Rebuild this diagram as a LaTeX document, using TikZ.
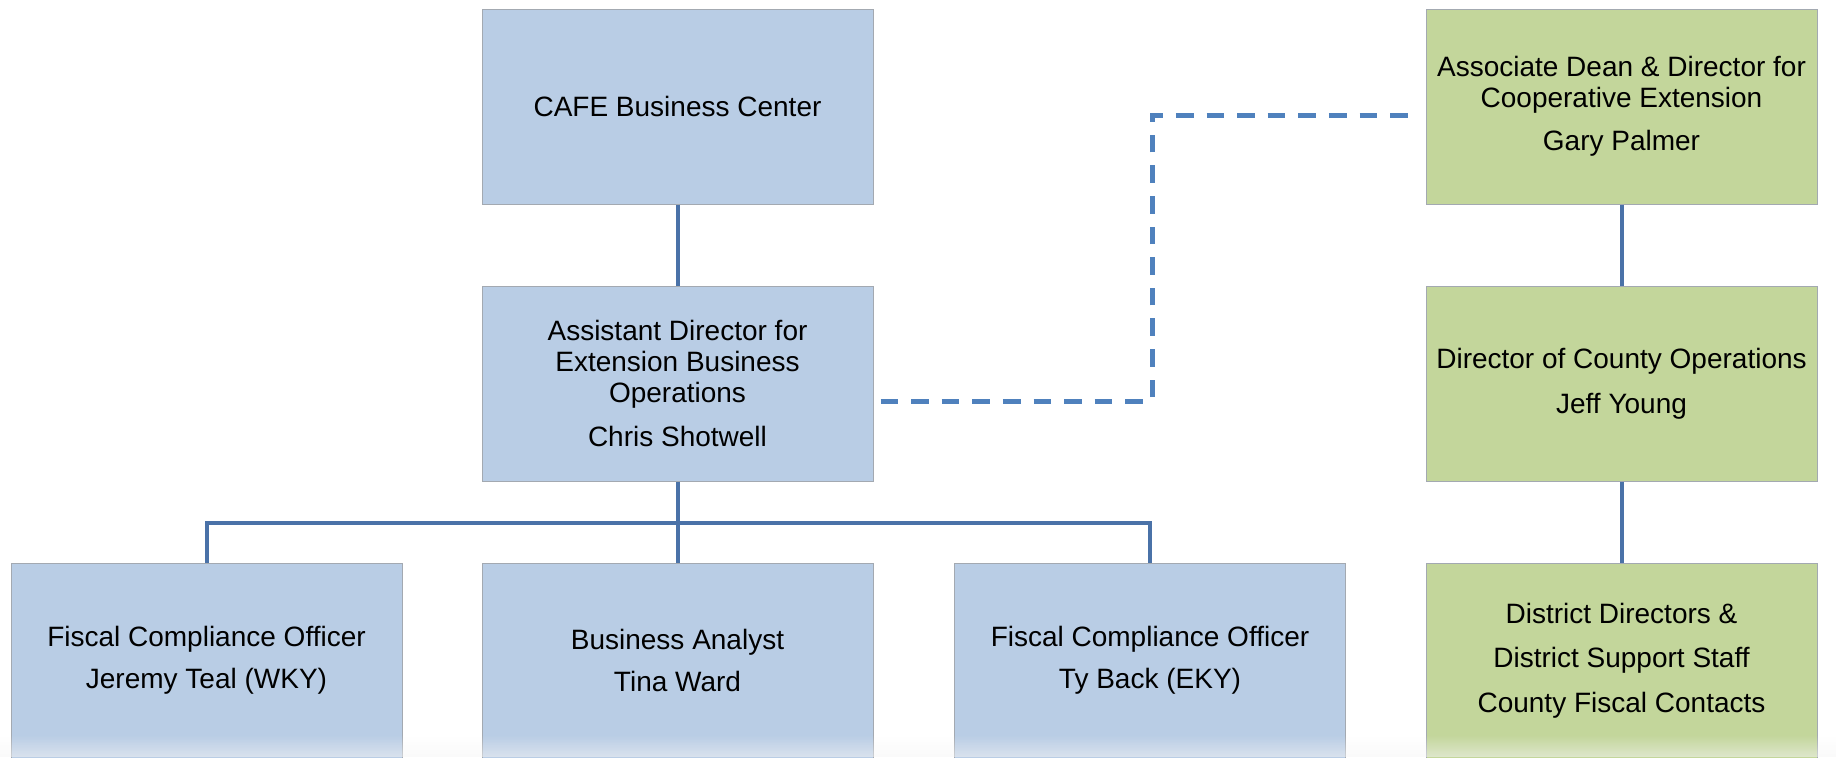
\documentclass[tikz,border=0pt]{standalone}
\usepackage{fontspec}
\setmainfont{Liberation Sans}
\usetikzlibrary{fadings}
\newcommand{\unitsize}{0.5pt}
\definecolor{boxblue}{HTML}{B9CDE5}
\definecolor{boxgreen}{HTML}{C3D69B}
\definecolor{linkblue}{HTML}{4A72A8}
\definecolor{dashblue}{HTML}{4F81BD}
\definecolor{boxedge}{HTML}{A3A9B1}

\begin{document}
\begin{tikzpicture}
\useasboundingbox (0,0) rectangle (1837*\unitsize,-757*\unitsize);
\tikzstyle{every node}=[draw=boxedge,
			line width=0.5pt,
			inner sep=0pt,
			minimum width = 391*\unitsize,
			minimum height = 195*\unitsize,
			align=center,
			font=\fontsize{14pt}{15.5pt}\selectfont
			]
\tikzstyle{bluebox}=[fill=boxblue]
\tikzstyle{greenbox}=[fill=boxgreen]
\tikzstyle{orgline}=[linkblue, line width=2pt]
\tikzstyle{dashlink}=[dashblue, line width=2.5pt, dash pattern=on 8.8pt off 6.5pt]


\node[bluebox] (cafe) at (677.5*\unitsize,-106.5*\unitsize) {CAFE Business Center};


\node[bluebox] (asst) at (677.5*\unitsize,-383.5*\unitsize) {Assistant Director for\\Extension Business\\Operations\\[6.75pt]Chris Shotwell};


\node[bluebox] (fcowest) at (206.5*\unitsize,-660.5*\unitsize) {Fiscal Compliance Officer\\[5.5pt]Jeremy Teal (WKY)};


\node[bluebox] (analyst) at (677.5*\unitsize,-660.5*\unitsize) {Business Analyst\\[5.5pt]Tina Ward};


\node[bluebox] (fcoeast) at (1150*\unitsize,-660.5*\unitsize) {Fiscal Compliance Officer\\[5.5pt]Ty Back (EKY)};


\node[greenbox] (dean) at (1621.5*\unitsize,-106.5*\unitsize) {Associate Dean \& Director for\\Cooperative Extension\\[6pt]Gary Palmer};


\node[greenbox] (county) at (1621.5*\unitsize,-383.5*\unitsize) {Director of County Operations\\[6.75pt]Jeff Young};


\node[greenbox] (district) at (1621.5*\unitsize,-660.5*\unitsize) {District Directors \&\\[6.75pt]District Support Staff\\[6.75pt]County Fiscal Contacts};


\coordinate (bus) at (677.5*\unitsize,-522.5*\unitsize);
\coordinate (dashtop) at (1152*\unitsize,-115*\unitsize);

\draw[orgline] (cafe.south) -- (asst.north);
\draw[orgline] (asst.south) -- (analyst.north);
\draw[orgline] (fcowest.north) |- (bus) -| (fcoeast.north);
\draw[orgline] (dean.south) -- (county.north);
\draw[orgline] (county.south) -- (district.north);

\draw[dashlink] ([shift={(7*\unitsize,-17.5*\unitsize)}]asst.east) -| (dashtop) -- ([shift={(-14*\unitsize,-8.5*\unitsize)}]dean.west);

% light fade along the bottom edge
\fill[white!96!black, fill opacity=0.55, path fading=north] (0,-735*\unitsize) rectangle (1837*\unitsize,-757*\unitsize);

\end{tikzpicture}
\end{document}
